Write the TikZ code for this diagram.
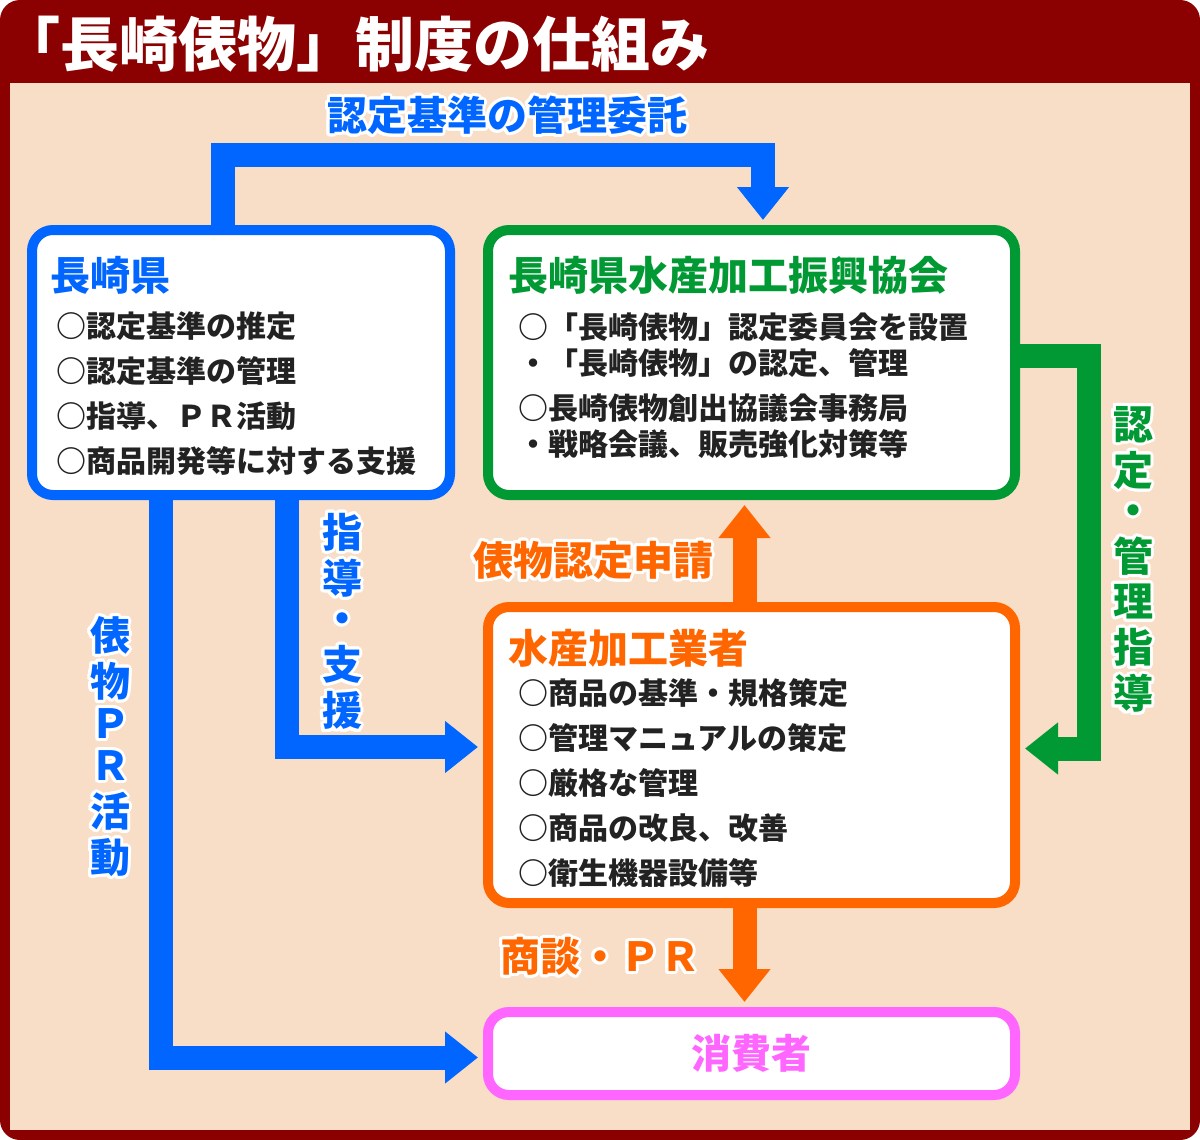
\documentclass[tikz,border=0pt]{standalone}
\usepackage{fontspec}
\setmainfont{Noto Sans CJK JP}
\usepackage{contour}
\usepackage{tikz}
\usetikzlibrary{arrows.meta, positioning, calc}
\definecolor{myframe}{RGB}{139,0,0}
\definecolor{mybeige}{RGB}{248,222,198}
\definecolor{myblue}{RGB}{0,102,255}
\definecolor{mygreen}{RGB}{0,153,51}
\definecolor{myorange}{RGB}{255,102,0}
\definecolor{mypink}{RGB}{255,102,255}
\definecolor{mytext}{RGB}{34,34,34}
\contourlength{3pt}
\contournumber{24}
\newcommand{\vstack}[1]{\begin{tabular}{@{}c@{}}#1\end{tabular}}
\tikzset{
  box/.style={rectangle, fill=white, rounded corners=21pt, line width=10pt},
  bluebox/.style={box, draw=myblue},
  greenbox/.style={box, draw=mygreen},
  orangebox/.style={box, draw=myorange},
  pinkbox/.style={box, draw=mypink},
  titletext/.style={font=\fontsize{59}{59}\selectfont\bfseries, text=white,
    inner sep=0pt, anchor=west},
  head/.style={font=\fontsize{40}{40}\selectfont\bfseries, inner sep=0pt, anchor=west},
  item/.style={font=\fontsize{30}{30}\selectfont\bfseries, text=mytext,
    inner sep=0pt, anchor=west},
  lab/.style={font=\fontsize{40}{40}\selectfont\bfseries, inner sep=0pt},
  fat/.style={line width=24pt, line join=miter,
    -{Triangle[width=50pt,length=33pt]}, shorten >=5pt},
  bluearrow/.style={fat, draw=myblue},
  greenarrow/.style={fat, draw=mygreen},
  orangearrow/.style={fat, draw=myorange}
}
\begin{document}
\begin{tikzpicture}[x=1pt, y=-1pt]
  \useasboundingbox (0,0) rectangle (1200,1140);
  % frame
  \fill[myframe, rounded corners=20pt] (0,0) rectangle (1200,1140);
  \fill[mybeige] (10,83) rectangle (1190,1130);
  \node[titletext] (title) at (1,44) {「長崎俵物」制度の仕組み};

  % boxes
  \node[bluebox, minimum width=418pt, minimum height=265pt] (ken) at (241,362.5) {};
  \node[greenbox, minimum width=527pt, minimum height=265pt] (kyokai) at (751.5,362.5) {};
  \node[orangebox, minimum width=527pt, minimum height=296pt] (gyosha) at (751.5,755) {};
  \node[pinkbox, minimum width=527pt, minimum height=83pt] (shohi) at (751.5,1053.5) {};

  % arrows
  \draw[bluearrow] ([xshift=-18pt]ken.north) -- ++(0,-70) -| ([xshift=11.5pt]kyokai.north);
  \draw[greenarrow] ([yshift=7pt]kyokai.east) -- ++(69,0) |- ([yshift=6.5pt]gyosha.east);
  \draw[orangearrow] ([xshift=-7pt]gyosha.north) -- ([xshift=-7pt]kyokai.south);
  \draw[orangearrow] ([xshift=-7pt]gyosha.south) -- ([xshift=-7pt]shohi.north);
  \draw[bluearrow] ([xshift=45.5pt]ken.south) |- ([yshift=8pt]gyosha.west);
  \draw[bluearrow] ([xshift=-80.5pt]ken.south) |- ([yshift=-4pt]shohi.west);

  % box texts
  \node[head, text=myblue] (kenT) at (50,275) {長崎県};
  \foreach \t [count=\i] in {○認定基準の推定, ○認定基準の管理, ○指導、ＰＲ活動, ○商品開発等に対する支援}
    \node[item] (ken\i) at (56, 281+45*\i) {\t};
  \node[head, text=mygreen] (kyokaiT) at (508,275) {長崎県水産加工振興協会};
  \foreach \t/\y [count=\i] in {○「長崎俵物」認定委員会を設置/327, ・「長崎俵物」の認定、管理/363,
      ○長崎俵物創出協議会事務局/408, ・戦略会議、販売強化対策等/444}
    \node[item] (kyokai\i) at (518,\y) {\t};
  \node[head, text=myorange] (gyoshaT) at (508,648) {水産加工業者};
  \foreach \t [count=\i] in {○商品の基準・規格策定, ○管理マニュアルの策定, ○厳格な管理, ○商品の改良、改善, ○衛生機器設備等}
    \node[item] (gyosha\i) at (518, 648+45*\i) {\t};
  \node[lab, text=mypink] (shohiT) at (shohi) {消費者};

  % arrow labels
  \node[lab, text=myblue] (itaku) at (507,117) {\contour{white}{認定基準の管理委託}};
  \node[lab, text=myorange] (shinsei) at (593,562) {\contour{white}{俵物認定申請}};
  \node[lab, text=myorange] (shodan) at (600,958) {\contour{white}{商談・ＰＲ}};
  \node[lab, text=mygreen] (kanri) at (1133,565) {\contour{white}{\vstack{認\\定\\・\\管\\理\\指\\導}}};
  \node[lab, text=myblue] (shien) at (342,627) {\contour{white}{\vstack{指\\導\\・\\支\\援}}};
  \node[lab, text=myblue] (prkatsudo) at (110,752) {\contour{white}{\vstack{俵\\物\\Ｐ\\Ｒ\\活\\動}}};
\end{tikzpicture}
\end{document}
